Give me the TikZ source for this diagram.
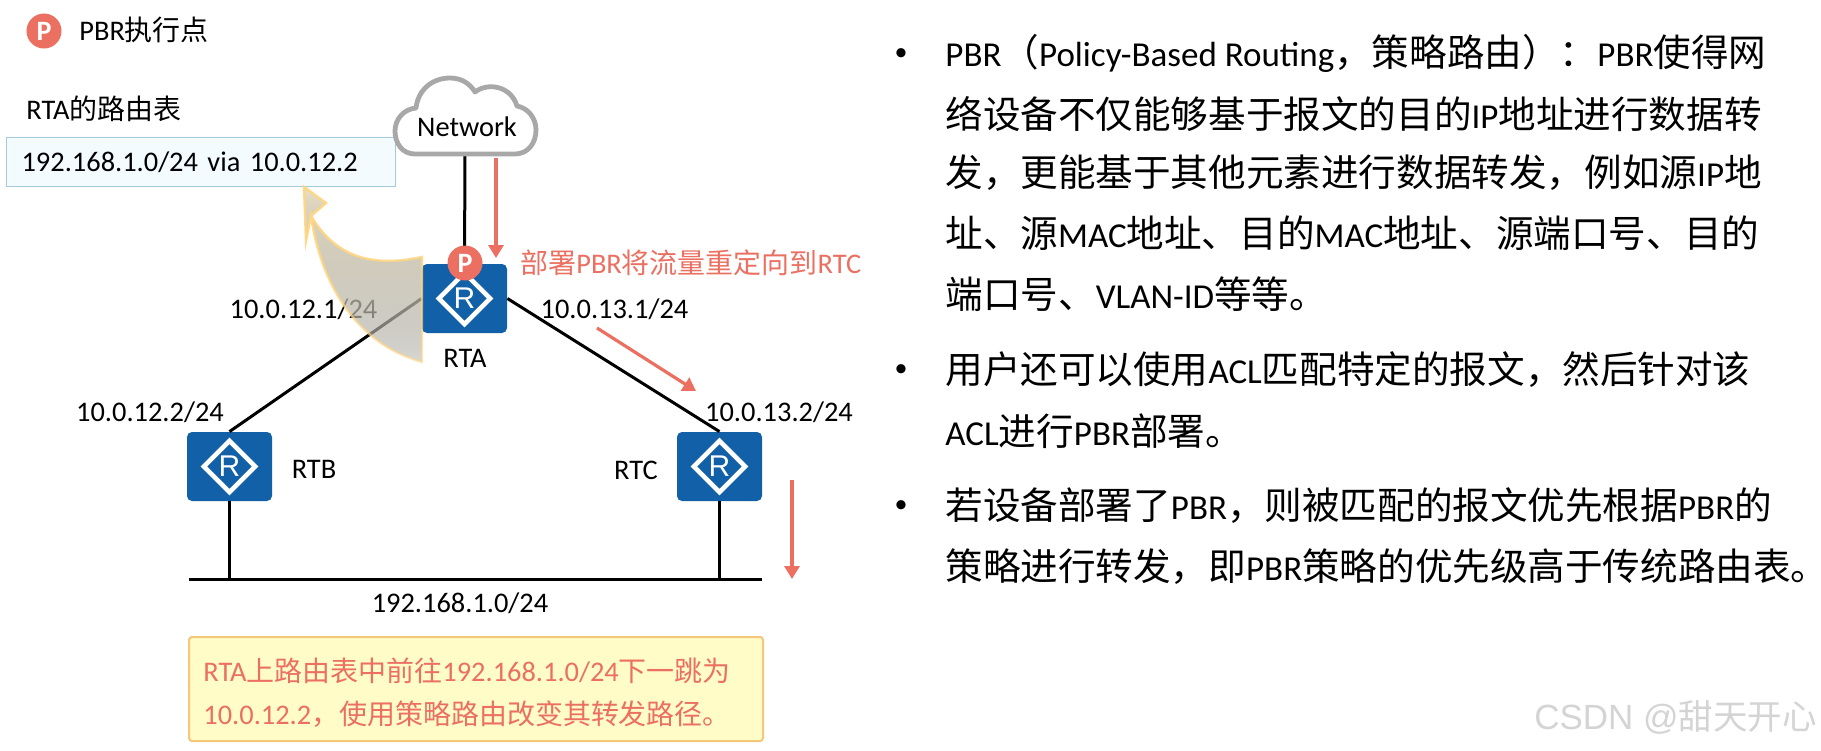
\documentclass[tikz,border=0pt]{standalone}
\usepackage{fontspec}
\usetikzlibrary{arrows.meta,fadings}
\setmainfont{Carlito}
\newfontfamily\cjkL[Scale=0.985]{Noto Sans CJK SC}
\newfontfamily\cjkR[Scale=1.074]{Noto Sans CJK SC}
\newfontfamily\wmfont{Liberation Sans}
\newfontfamily\rfont{Liberation Sans}
\newcommand{\Z}[1]{{\cjkL #1}}
\newcommand{\Y}[1]{{\cjkR #1}}
\definecolor{routerblue}{HTML}{1160A8}
\definecolor{redc}{HTML}{EB7062}
\definecolor{cloudg}{HTML}{A8A8A8}
\pgfdeclareverticalshading{swfade}{100bp}{color(0bp)=(black); color(6bp)=(black!92!white); color(30bp)=(white!62!black); color(60bp)=(white!92!black); color(100bp)=(white)}
\pgfdeclarefading{swoosh}{\pgfuseshading{swfade}}
\definecolor{swA}{HTML}{FFF3D0}
\definecolor{swB}{HTML}{DAD2BA}
\definecolor{swC}{HTML}{B6B3A8}
\definecolor{swD}{HTML}{B0B0B0}
\pgfdeclareverticalshading{swcol}{100bp}{color(0bp)=(swD); color(35bp)=(swC); color(70bp)=(swB); color(84bp)=(swA); color(100bp)=(swA)}
\tikzset{
  x=0.5pt,y=-0.5pt,
  lbl/.style={font=\fontsize{14.2}{17}\selectfont,inner sep=0,text=black},
  link/.style={draw=black,line width=1.5pt},
  redarrow/.style={draw=redc,line width=1.6pt,-{Triangle[length=6.5pt,width=7.5pt]}},
  router/.style={fill=routerblue,rounded corners=2.5pt,minimum width=42.5pt,minimum height=34.5pt,inner sep=0,
    text=white,font=\fontsize{15}{17}\rfont\selectfont,
    path picture={\draw[white,line width=2.3pt,sharp corners,miter limit=10] ([yshift=12.8pt]path picture bounding box.center) -- ++(-12.8pt,-12.8pt) -- ++(12.8pt,-12.8pt) -- ++(12.8pt,12.8pt) -- cycle;}},
  pbadge/.style={circle,fill=redc,minimum size=17.5pt,inner sep=0,text=white,font=\fontsize{14}{16}\bfseries\selectfont},
  bodytext/.style={anchor=west,inner sep=0,font=\fontsize{17.5}{20}\selectfont,text=black},
  bullet/.style={anchor=center,inner sep=0,font=\fontsize{13}{16}\selectfont,text=black},
}
\begin{document}
\begin{tikzpicture}
\useasboundingbox (0,0) rectangle (1821,750);
\fill[white] (0,0) rectangle (1821,750);
% legend
\node[pbadge] (legend) at (44,31) {P};
\node[lbl,anchor=west] (legendt) at (79,30) {PBR\Z{执行点}};
% routing table
\node[lbl,anchor=west] (rtt) at (26,109) {RTA\Z{的路由表}};
\node[lbl,anchor=west,draw={rgb,255:red,165;green,203;blue,220},line width=.6pt,fill={rgb,255:red,243;green,251;blue,255},minimum height=24.5pt,text width=179.5pt,align=left,inner xsep=7.5pt] (rt) at (6,162) {192.168.1.0/24 via 10.0.12.2};
% routers
\node[router] (RTA) at (464.5,298.5) {R};
\node[router] (RTB) at (229.5,466.5) {R};
\node[router] (RTC) at (719.5,466.5) {R};
% cloud
\coordinate (netb) at (465,155);
\draw[link] (netb) -- (RTA.north);
\draw[cloudg,line width=2.4pt,fill=white,line join=round] (415,154)
  .. controls (402,154) and (395,143) .. (395,131)
  .. controls (395,119) and (404,109) .. (416,108)
  .. controls (418,90) and (432,78) .. (450,78)
  .. controls (462,78) and (470,84) .. (475,92)
  .. controls (488,82) and (511,86) .. (517,106)
  .. controls (528,108) and (536,118) .. (536,130)
  .. controls (536,143) and (528,154) .. (515,154)
  -- cycle;
\node[lbl] (net) at (467,127) {Network};
% links
\coordinate (busl) at (189,579);
\coordinate (busr) at (762,579);
\coordinate (rtbbus) at (229.5,579);
\coordinate (rtcbus) at (719.5,579);
\draw[link] (RTA.west) -- (RTB.north);
\draw[link] (RTA.east) -- (RTC.north);
\draw[link] (RTB.south) -- (rtbbus);
\draw[link] (RTC.south) -- (rtcbus);
\draw[link] (busl) -- (busr);
% labels
\node[lbl] (a1) at (303.5,309) {10.0.12.1/24};
\node[lbl] (a2) at (614.5,309) {10.0.13.1/24};
\node[lbl] (b1) at (150,412) {10.0.12.2/24};
\node[lbl] (c1) at (779,412) {10.0.13.2/24};
\node[lbl] (lana) at (465,358) {RTA};
\node[lbl] (lanb) at (314,469) {RTB};
\node[lbl] (lanc) at (636,470) {RTC};
\node[lbl] (lan) at (460,603) {192.168.1.0/24};
% swoosh
\path[draw={rgb,255:red,255;green,214;blue,130},line width=1.2pt,shade,shading=swcol,path fading=swoosh]
  (304,187) -- (326,203) -- (311,216)
  .. controls (335,256) and (370,268) .. (422,257)
  -- (422,362)
  .. controls (360,345) and (322,290) .. (311,216)
  -- (306,241) -- cycle;
\node[pbadge] (pa) at (465,263) {P};
% red arrows
\coordinate (r1s) at (496,158); \coordinate (r1e) at (496,258);
\coordinate (r2s) at (597,328); \coordinate (r2e) at (696,391);
\coordinate (r3s) at (792,480); \coordinate (r3e) at (792,579);
\draw[redarrow] (r1s) -- (r1e);
\draw[redarrow] (r2s) -- (r2e);
\draw[redarrow] (r3s) -- (r3e);
\node[lbl,text=redc,anchor=west] (dep) at (520,263) {\Z{部署}PBR\Z{将流量重定向到}RTC};
% note
\node[draw={rgb,255:red,244;green,200;blue,120},line width=1pt,fill={rgb,255:red,255;green,252;blue,200},rounded corners=1.5pt,minimum width=287pt,minimum height=52pt,anchor=north west,inner sep=0] (note) at (188,636) {};
\node[lbl,text=redc,anchor=west] (n1) at (203,671) {RTA\Z{上路由表中前往}192.168.1.0/24\Z{下一跳为}};
\node[lbl,text=redc,anchor=west] (n2) at (203,714) {10.0.12.2\Z{，使用策略路由改变其转发路径。}};
% right text
\node[bullet] (b1d) at (901,55) {•};
\node[bodytext] (t1) at (945,53) {PBR\Y{（}Policy-Based Routing\Y{，策略路由）：}PBR\Y{使得网}};
\node[bodytext] (t2) at (945,114) {\Y{络设备不仅能够基于报文的目的}IP\Y{地址进行数据转}};
\node[bodytext] (t3) at (945,173) {\Y{发，更能基于其他元素进行数据转发，例如源}IP\Y{地}};
\node[bodytext] (t4) at (945,233) {\Y{址、源}MAC\Y{地址、目的}MAC\Y{地址、源端口号、目的}};
\node[bodytext] (t5) at (945,294) {\Y{端口号、}VLAN-ID\Y{等等。}};
\node[bullet] (b2d) at (901,371) {•};
\node[bodytext] (t6) at (945,370) {\Y{用户还可以使用}ACL\Y{匹配特定的报文，然后针对该}};
\node[bodytext] (t7) at (945,431) {ACL\Y{进行}PBR\Y{部署。}};
\node[bullet] (b3d) at (901,507) {•};
\node[bodytext] (t8) at (945,506) {\Y{若设备部署了}PBR\Y{，则被匹配的报文优先根据}PBR\Y{的}};
\node[bodytext] (t9) at (945,567) {\Y{策略进行转发，即}PBR\Y{策略的优先级高于传统路由表。}};
% watermark
\node[anchor=east,inner sep=0,text={rgb,255:red,212;green,212;blue,212},font=\fontsize{17.5}{20}\wmfont\selectfont] (wm) at (1817,717) {CSDN @{\cjkL 甜天开心}};
\end{tikzpicture}
\end{document}
